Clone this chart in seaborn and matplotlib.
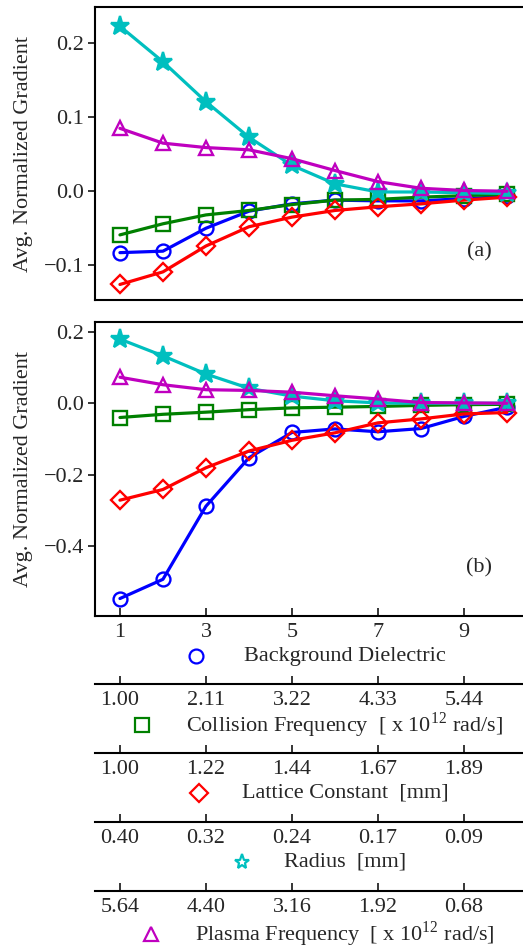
import matplotlib
matplotlib.use("Agg")
import matplotlib.pyplot as plt
import seaborn as sns
import numpy as np

# ---- data -------------------------------------------------------------
steps = [1, 2, 3, 4, 5, 6, 7, 8, 9, 10]

a_dielectric = [-0.083, -0.081, -0.050, -0.027, -0.017, -0.012, -0.013, -0.013, -0.010, -0.007]
a_collision = [-0.059, -0.044, -0.032, -0.026, -0.018, -0.012, -0.011, -0.008, -0.006, -0.004]
a_lattice = [-0.126, -0.109, -0.074, -0.048, -0.035, -0.026, -0.021, -0.017, -0.012, -0.008]
a_radius = [0.223, 0.175, 0.121, 0.073, 0.035, 0.010, -0.001, -0.001, -0.002, -0.003]
a_plasma = [0.085, 0.065, 0.059, 0.056, 0.044, 0.028, 0.013, 0.004, 0.001, 0.000]

b_dielectric = [-0.548, -0.494, -0.289, -0.153, -0.082, -0.072, -0.080, -0.071, -0.037, -0.011]
b_collision = [-0.040, -0.031, -0.025, -0.018, -0.013, -0.011, -0.009, -0.006, -0.004, -0.003]
b_lattice = [-0.272, -0.242, -0.181, -0.134, -0.104, -0.083, -0.055, -0.044, -0.030, -0.026]
b_radius = [0.180, 0.133, 0.082, 0.042, 0.020, 0.007, 0.001, 0.000, 0.000, 0.000]
b_plasma = [0.073, 0.052, 0.038, 0.036, 0.031, 0.021, 0.012, 0.002, 0.001, 0.000]

main_ticks = [1, 3, 5, 7, 9]
collision_labels = ["1.00", "2.11", "3.22", "4.33", "5.44"]
lattice_labels = ["1.00", "1.22", "1.44", "1.67", "1.89"]
radius_labels = ["0.40", "0.32", "0.24", "0.17", "0.09"]
plasma_labels = ["5.64", "4.40", "3.16", "1.92", "0.68"]

axis_names = [
    "Background Dielectric",
    r"Collision Frequency  [ x 10$^{12}$ rad/s]",
    "Lattice Constant  [mm]",
    "Radius  [mm]",
    r"Plasma Frequency  [ x 10$^{12}$ rad/s]",
]

# ---- style ------------------------------------------------------------
sns.set_theme(style="ticks")
plt.rcParams["font.family"] = ["Liberation Serif", "DejaVu Serif"]
plt.rcParams["mathtext.fontset"] = "custom"
plt.rcParams["mathtext.rm"] = "Liberation Serif"
plt.rcParams["axes.unicode_minus"] = True
FS = 16
LW_SPINE = 1.5

W, H = 523, 949
fig = plt.figure(figsize=(W / 100, H / 100), dpi=100)


def fx(px):
    return px / W


def fy(py):
    return 1 - py / H


XLIM = (0.42, 10.58)
ax_left = fx(95)
ax_width = fx(95 + (XLIM[1] - XLIM[0]) * 43) - ax_left

ax_a = fig.add_axes([ax_left, fy(300), ax_width, fy(7) - fy(300)])
ax_b = fig.add_axes([ax_left, fy(616), ax_width, fy(322) - fy(616)])

series_style = [
    # key, colour, marker, size, filled
    ("dielectric", "#0000ff", "o", 10, False),
    ("collision", "#008000", "s", 10, False),
    ("lattice", "#ff0000", "D", 9, False),
    ("radius", "#00bfbf", "*", 14, True),
    ("plasma", "#bf00bf", "^", 10, False),
]
panel_data = {
    "a": dict(dielectric=a_dielectric, collision=a_collision, lattice=a_lattice,
              radius=a_radius, plasma=a_plasma),
    "b": dict(dielectric=b_dielectric, collision=b_collision, lattice=b_lattice,
              radius=b_radius, plasma=b_plasma),
}

for ax, key in ((ax_a, "a"), (ax_b, "b")):
    for name, col, mk, ms, filled in series_style:
        sns.lineplot(x=steps, y=panel_data[key][name], ax=ax, color=col,
                     linewidth=2.3, marker=mk, markersize=ms,
                     markerfacecolor=col if filled else "none",
                     markeredgecolor=col, markeredgewidth=1.7)
    ax.set_xlim(*XLIM)
    for sp in ax.spines.values():
        sp.set_linewidth(LW_SPINE)
        sp.set_color("black")
    ax.set_ylabel("Avg. Normalized Gradient", fontsize=FS)
    ax.yaxis.set_label_coords(-0.142, 0.5)
    ax.tick_params(axis="y", direction="out", length=5, width=1.3,
                   labelsize=FS, pad=3)

ax_a.set_ylim(-0.147, 0.249)
ax_a.set_yticks([-0.1, 0.0, 0.1, 0.2])
ax_a.set_yticklabels(["\u22120.1", "0.0", "0.1", "0.2"])
ax_a.set_xticks([])
ax_a.text(0.879, 0.165, "(a)", transform=ax_a.transAxes, fontsize=FS,
          ha="center", va="center")

ax_b.set_ylim(-0.597, 0.228)
ax_b.set_yticks([-0.4, -0.2, 0.0, 0.2])
ax_b.set_yticklabels(["\u22120.4", "\u22120.2", "0.0", "0.2"])
ax_b.set_xticks(main_ticks)
ax_b.set_xticklabels([str(t) for t in main_ticks])
ax_b.tick_params(axis="x", direction="in", length=6, width=1.3,
                 labelsize=FS, pad=5)
ax_b.text(0.879, 0.165, "(b)", transform=ax_b.transAxes, fontsize=FS,
          ha="center", va="center")

# ---- stacked secondary scales ----------------------------------------
for py, labels in ((684, collision_labels), (753, lattice_labels),
                   (822, radius_labels), (891, plasma_labels)):
    sec = fig.add_axes([ax_left, fy(py), ax_width, 1e-5])
    sec.set_xlim(*XLIM)
    sec.set_yticks([])
    for side in ("left", "right", "top"):
        sec.spines[side].set_visible(False)
    sec.spines["bottom"].set_linewidth(LW_SPINE)
    sec.spines["bottom"].set_color("black")
    sec.patch.set_alpha(0)
    sec.set_xticks(main_ticks)
    sec.set_xticklabels(labels)
    sec.tick_params(axis="x", direction="in", length=6, width=1.3,
                    labelsize=FS, pad=5)

# ---- scale titles with their marker keys -----------------------------
overlay = fig.add_axes([0, 0, 1, 1])
overlay.set_xlim(0, W)
overlay.set_ylim(H, 0)
overlay.axis("off")
title_rows = [656, 725, 793, 862, 934]
key_x = [196, 142, 199, 242, 151]
for (name, col, mk, ms, filled), label, ty, kx in zip(series_style, axis_names,
                                                       title_rows, key_x):
    overlay.text(345, ty, label, fontsize=FS, ha="center", va="center")
    key_ms = {"o": 10, "s": 10, "D": 9, "*": 11, "^": 10}[mk]
    overlay.plot([kx], [ty], marker=mk, markersize=key_ms, linestyle="none",
                 markerfacecolor="none", markeredgecolor=col,
                 markeredgewidth=1.6, clip_on=False)

fig.savefig("out.png", dpi=100)
